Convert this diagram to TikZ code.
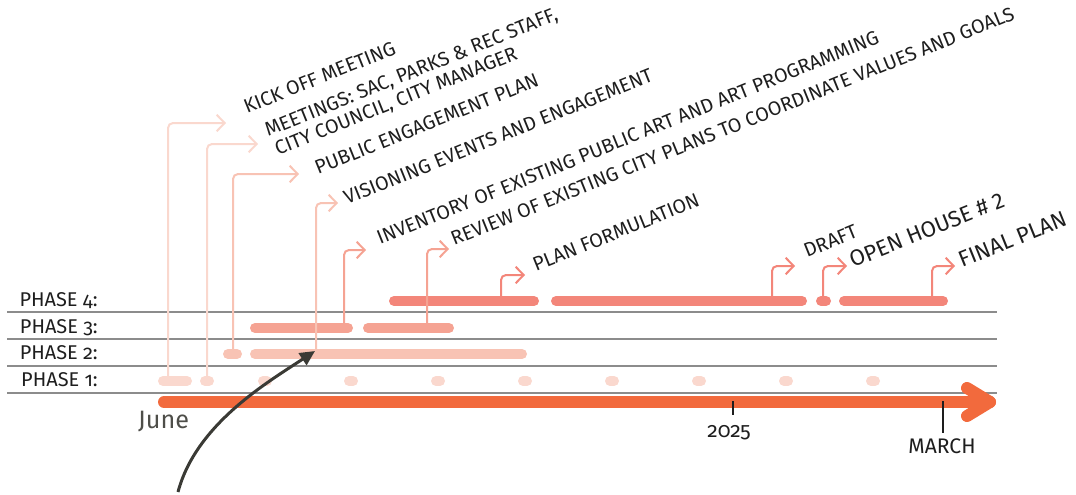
\documentclass[tikz,border=0pt]{standalone}
\usepackage{fontspec}
\setmainfont{Fira Sans}[Numbers=OldStyle]
\usetikzlibrary{arrows.meta}
\definecolor{axiscol}{HTML}{F26A3D}
\definecolor{ph1}{HTML}{FAD8CE}
\definecolor{ph2}{HTML}{F8C3B4}
\definecolor{ph3}{HTML}{F5A393}
\definecolor{ph4}{HTML}{F3867A}
\definecolor{rulecol}{HTML}{8C8C8C}
\definecolor{ink}{HTML}{1E1E1E}
\definecolor{pointercol}{HTML}{3A3A35}
\tikzstyle{lbl} = [rotate=22, anchor=base west, inner sep=0pt, text=ink, font=\fontsize{16.8}{20}\selectfont]
\tikzstyle{biglbl} = [lbl, font=\fontsize{19}{22}\selectfont]
\tikzstyle{phase} = [anchor=base east, inner sep=0pt, text=ink, font=\fontsize{17}{20}\selectfont]
\tikzstyle{datelbl} = [anchor=base, inner sep=0pt, text=ink, font=\fontsize{18}{21}\selectfont]
\tikzstyle{bar} = [line width=0.3cm, line cap=round]
\tikzstyle{link} = [line width=0.06cm, rounded corners=0.15cm, -{Straight Barb[length=0.24cm,width=0.5cm]}]
\tikzstyle{rowline} = [rulecol, line width=0.045cm]
\tikzstyle{axisline} = [axiscol, line width=0.36cm, line cap=round, line join=round]
\tikzstyle{tick} = [ink, line width=0.06cm]
\tikzstyle{pointer} = [pointercol, line width=0.09cm, -{Triangle[length=0.45cm,width=0.42cm]}]

\begin{document}
\begin{tikzpicture}[x=0.03cm, y=-0.03cm]
        \useasboundingbox (0,0) rectangle (1076,494);
        \foreach \y in {312,339,366,393} \draw [rowline] (7,\y) -- (997,\y);
        \node (p4) [phase] at (98,306) {PHASE 4:};
        \node (p3) [phase] at (98,333) {PHASE 3:};
        \node (p2) [phase] at (98,359) {PHASE 2:};
        \node (p1) [phase] at (98,386) {PHASE 1:};
        \draw [bar, ph1] (163,381) -- (187,381);
        \draw [bar, ph1] (205,381) -- (209,381);
        \foreach \x in {265,351,438,525,612,699,786,873} \draw [bar, ph1] (\x-2,381) -- (\x+2,381);
        \draw [bar, ph2] (228,354) -- (237,354);
        \draw [bar, ph2] (255,354) -- (522,354);
        \draw [bar, ph3] (255,328) -- (348,328);
        \draw [bar, ph3] (368,328) -- (449,328);
        \draw [bar, ph4] (394,301) -- (534,301);
        \draw [bar, ph4] (556,301) -- (802,301);
        \draw [bar, ph4] (821,301) -- (826,301);
        \draw [bar, ph4] (844,301) -- (943,301);
        \coordinate (s1) at (168,381); \coordinate (e1) at (226,123);
        \coordinate (s2) at (207,381); \coordinate (e2) at (258,144);
        \coordinate (s3) at (233,354); \coordinate (e3) at (299,174);
        \coordinate (s4) at (316,354); \coordinate (e4) at (338,203);
        \coordinate (s5) at (344,328); \coordinate (e5) at (366,250);
        \coordinate (s6) at (427,328); \coordinate (e6) at (449,249);
        \coordinate (s7) at (501,301); \coordinate (e7) at (525,275);
        \coordinate (s8) at (772,301); \coordinate (e8) at (795,266);
        \coordinate (s9) at (823,301); \coordinate (e9) at (847,266);
        \coordinate (s10) at (932,301); \coordinate (e10) at (955,266);
        \draw [link, ph1] (s1) |- (e1);
        \draw [link, ph1] (s2) |- (e2);
        \draw [link, ph2] (s3) |- (e3);
        \draw [link, ph2] (s4) |- (e4);
        \draw [link, ph3] (s5) |- (e5);
        \draw [link, ph3] (s6) |- (e6);
        \draw [link, ph4] (s7) |- (e7);
        \draw [link, ph4] (s8) |- (e8);
        \draw [link, ph4] (s9) |- (e9);
        \draw [link, ph4] (s10) |- (e10);
        \node (kick) [lbl] at (247,114) {KICK OFF MEETING};
        \node (meet) [lbl] at (268,137) {MEETINGS: SAC, PARKS \& REC STAFF,};
        \node (council) [lbl] at (278,156) {CITY COUNCIL, CITY MANAGER};
        \node (engage) [lbl] at (318,175) {PUBLIC ENGAGEMENT PLAN};
        \node (vision) [lbl] at (347,205) {VISIONING EVENTS AND ENGAGEMENT};
        \node (invent) [lbl] at (380,245) {INVENTORY OF EXISTING PUBLIC ART AND ART PROGRAMMING};
        \node (review) [lbl] at (454,246) {REVIEW OF EXISTING CITY PLANS TO COORDINATE VALUES AND GOALS};
        \node (form) [lbl] at (536,272) {PLAN FORMULATION};
        \node (draft) [lbl] at (807,258) {DRAFT};
        \node (open) [biglbl] at (853,268) {OPEN HOUSE \# \addfontfeature{Numbers=Lining}2};
        \node (final) [biglbl] at (962,268) {FINAL PLAN};
        \coordinate (t0) at (164,402); \coordinate (t1) at (990,402);
        \draw [axisline] (t0) -- (t1);
        \draw [axisline] (967,388) -- (t1) -- (967,416);
        \draw [tick] (733,401) -- (733,415);
        \draw [tick] (943,401) -- (943,433);
        \node (year) [datelbl] at (729,437) {2025};
        \node (march) [datelbl] at (942,453) {MARCH};
        \node (june) [anchor=base west, inner sep=0pt, text=pointercol!90, font=\fontsize{21.5}{25}\selectfont] at (138,428) {June};
        \coordinate (ptr0) at (178,492); \coordinate (ptr1) at (315,351);
        \draw [pointer] (ptr0) .. controls (196,424) and (268,382) .. (ptr1);
      \end{tikzpicture}
\end{document}
